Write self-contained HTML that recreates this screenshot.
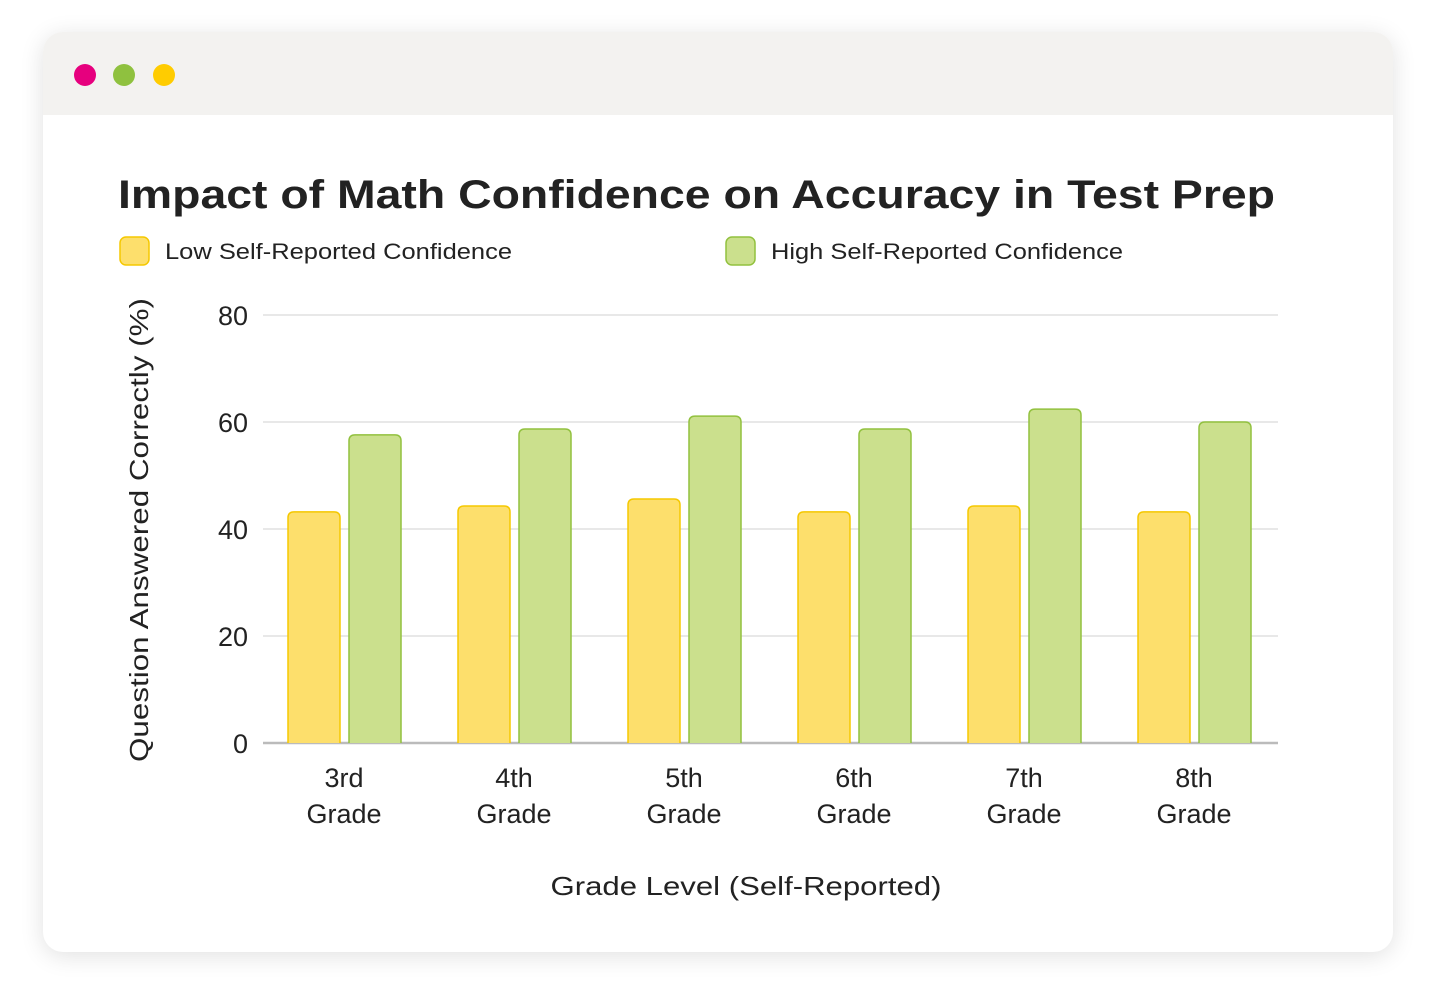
<!DOCTYPE html>
<html><head><meta charset="utf-8"><style>
body{margin:0;width:1441px;height:998px;background:#fff;font-family:"Liberation Sans",sans-serif;overflow:hidden}
.card{position:absolute;left:43px;top:32px;width:1350px;height:920px;border-radius:20px;background:#fff;box-shadow:0 4px 24px rgba(0,0,0,0.12);overflow:hidden}
.hdr{position:absolute;left:0;top:0;width:100%;height:83px;background:#f3f2f0}
.dot{position:absolute;top:32px;width:22px;height:22px;border-radius:50%}
</style></head><body>
<div class="card">
<div class="hdr">
<div class="dot" style="left:31px;background:#e6007e"></div>
<div class="dot" style="left:70px;background:#8fc13f"></div>
<div class="dot" style="left:110px;background:#ffcc00"></div>
</div></div>
<svg id="c" width="1441" height="998" style="position:absolute;left:0;top:0">
<text x="118" y="208" font-size="40" font-weight="bold" fill="#222" textLength="1157" lengthAdjust="spacingAndGlyphs">Impact of Math Confidence on Accuracy in Test Prep</text>
<g><rect x="120" y="237" width="29" height="28" rx="6" fill="#fddf6c" stroke="#f5c800" stroke-width="1.5"/><text x="165" y="259" font-size="22" fill="#222" textLength="347" lengthAdjust="spacingAndGlyphs">Low Self-Reported Confidence</text></g>
<g><rect x="726" y="237" width="29" height="28" rx="6" fill="#cbe08d" stroke="#92c13f" stroke-width="1.5"/><text x="771" y="259" font-size="22" fill="#222" textLength="352" lengthAdjust="spacingAndGlyphs">High Self-Reported Confidence</text></g>
<text transform="translate(148,530) rotate(-90)" text-anchor="middle" font-size="26" fill="#222" textLength="464" lengthAdjust="spacingAndGlyphs">Question Answered Correctly (%)</text>
<text x="746" y="895" text-anchor="middle" font-size="26" fill="#222" textLength="391" lengthAdjust="spacingAndGlyphs">Grade Level (Self-Reported)</text>
<g id="g"></g>
</svg>
<script>
const categories=["3rd","4th","5th","6th","7th","8th"];
const lowValues=[43.2,44.3,45.6,43.2,44.3,43.2];
const highValues=[57.6,58.7,61.1,58.7,62.4,60.0];
const yTicks=[0,20,40,60,80];
const NS="http://www.w3.org/2000/svg",g=document.getElementById('g');
const x0=263,x1=1278,y0=743,y80=315;
const y=v=>y0-(v/80)*(y0-y80);
const bw=170;
function el(t,a){const e=document.createElementNS(NS,t);for(const k in a)e.setAttribute(k,a[k]);g.appendChild(e);return e;}
yTicks.forEach(t=>{
 const l=el('line',{x1:x0,x2:x1,y1:y(t),y2:y(t),stroke:t===0?'#bbb':'#e8e8e8','stroke-width':t===0?2.5:2});
 
 
 const tx=el('text',{x:248,y:y(t)+10,'text-anchor':'end','font-size':27,fill:'#222'});tx.textContent=t;
 
 
});
function bar(xl,v,fill,stroke,name){
 const r=6;
 const d=`M${xl},${y0}V${y(v)+r}Q${xl},${y(v)} ${xl+r},${y(v)}H${xl+52-r}Q${xl+52},${y(v)} ${xl+52},${y(v)+r}V${y0}`;
 const p=el('path',{d,fill,stroke,'stroke-width':1.5});
 
 
}
categories.forEach((c,i)=>{
 const gx=x0+i*bw;
 bar(gx+25,lowValues[i],'#fddf6c','#f5c800','bar-low-'+c);
 bar(gx+86,highValues[i],'#cbe08d','#92c13f','bar-high-'+c);
 const cx=gx+bw/2-4;
 const t1=el('text',{x:cx,y:787,'text-anchor':'middle','font-size':27,fill:'#222'});t1.textContent=c;
 
 
 const t2=el('text',{x:cx,y:823,'text-anchor':'middle','font-size':27,fill:'#222'});t2.textContent='Grade';
 
 
});
</script>
</body></html>
